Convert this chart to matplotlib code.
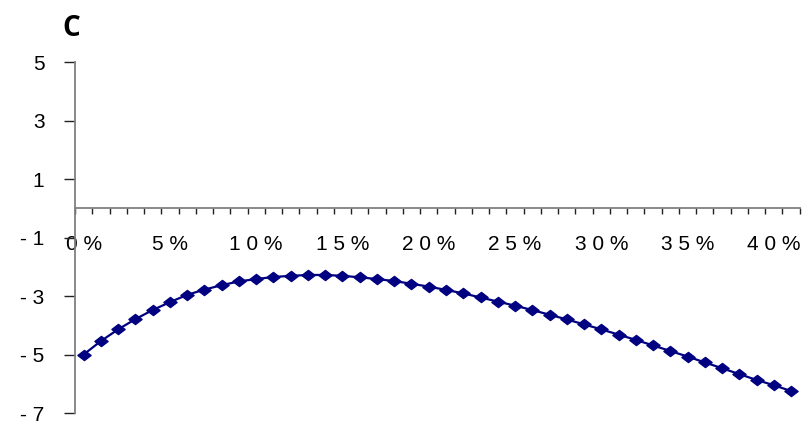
import matplotlib
matplotlib.use("Agg")
import matplotlib.pyplot as plt
from matplotlib.path import Path

plt.rcParams['font.family'] = ['Liberation Sans', 'DejaVu Sans']

# Rate categories (percent) and the corresponding series values
rates = list(range(0, 42))
values = [-5.00, -4.54, -4.14, -3.79, -3.48, -3.21, -2.96, -2.78, -2.63, -2.50,
          -2.42, -2.35, -2.31, -2.28, -2.28, -2.31, -2.36, -2.42, -2.49, -2.58,
          -2.68, -2.79, -2.91, -3.05, -3.19, -3.33, -3.48, -3.64, -3.80, -3.97,
          -4.14, -4.32, -4.50, -4.69, -4.88, -5.07, -5.27, -5.47, -5.67, -5.87,
          -6.05, -6.25]
ytick_values = [5, 3, 1, -1, -3, -5, -7]
panel_label = "C"

def spaced(s):
    return " ".join(s)

fig = plt.figure(figsize=(8.04, 4.23), dpi=100)
ax = fig.add_axes([0.0933, 0.0236, 0.9014, 0.8298])

pos = list(range(len(rates)))
diamond = Path([(-1, 0), (0, 0.77), (1, 0), (0, -0.77), (-1, 0)],
               [Path.MOVETO, Path.LINETO, Path.LINETO, Path.LINETO, Path.CLOSEPOLY])
ax.plot(pos, values, color='#000080', linewidth=1.6, marker=diamond,
        markersize=9.5, markerfacecolor='#000080', markeredgecolor='#000080',
        clip_on=False, zorder=3)

ax.set_xlim(-0.5, len(rates) - 0.5)
ax.set_ylim(-7, 5)

# Spines: vertical axis at the left, category axis crossing at zero
for side in ('top', 'right'):
    ax.spines[side].set_visible(False)
ax.spines['left'].set_color('#808080')
ax.spines['left'].set_linewidth(1.3)
ax.spines['bottom'].set_position(('data', 0))
ax.spines['bottom'].set_color('#808080')
ax.spines['bottom'].set_linewidth(1.3)

# Y ticks
ax.set_yticks(ytick_values)
ax.set_yticklabels([spaced(f"{v}") if v < 0 else f"{v}" for v in ytick_values])
ax.tick_params(axis='y', direction='out', length=8, width=1.0, color='#222222',
               pad=14, labelsize=15, labelcolor='#000000')

# X ticks: boundary tick marks, labels every 5 categories
label_pos = [p for p, r in zip(pos, rates) if r % 5 == 0]
label_txt = [spaced(f"{rates[p]}%") for p in label_pos]
ax.set_xticks(label_pos)
ax.set_xticklabels(label_txt)
ax.set_xticks([p - 0.5 for p in pos] + [pos[-1] + 0.5], minor=True)
ax.tick_params(axis='x', which='major', length=0, pad=19, labelsize=15,
               labelcolor='#000000')
ax.tick_params(axis='x', which='minor', direction='out', length=4.5, width=1.0,
               color='#222222')

fig.text(0.078, 0.968, panel_label, fontsize=20, fontweight='bold',
         family=['Open Sans', 'DejaVu Sans'], ha='left', va='top', color='#000000')

fig.savefig("out.png", dpi=100)
